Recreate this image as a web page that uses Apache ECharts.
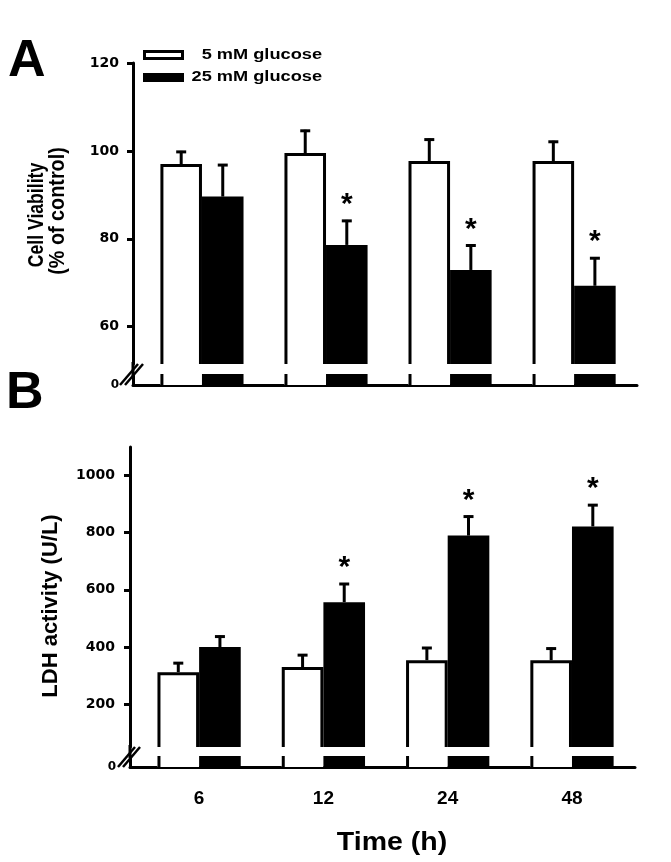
<!DOCTYPE html>
<html><head><meta charset="utf-8">
<script src="https://cdn.jsdelivr.net/npm/echarts@6/dist/echarts.min.js"></script>
<style>html,body{margin:0;padding:0;background:#fff}#c{width:671px;height:862px}</style>
</head><body><div id="c"></div>
<script>
// ---- data ----
const timeLabels = ['6', '12', '24', '48'];
const seriesNames = ['5 mM glucose', '25 mM glucose'];
const viabilityLow = [97.0, 99.5, 97.7, 97.7];
const viabilityLowSD = [3.0, 5.3, 5.1, 4.6];
const viabilityHigh = [89.6, 78.6, 72.9, 69.3];
const viabilityHighSD = [7.4, 5.7, 5.8, 6.5];
const viabilitySig = [0, 1, 1, 1];
const ldhLow = [312, 330, 354, 354];
const ldhLowSD = [35, 45, 46, 44];
const ldhHigh = [400, 557, 790, 822];
const ldhHighSD = [40, 67, 70, 78];
const ldhSig = [0, 1, 1, 1];
const viabilityTicks = [60, 80, 100, 120];
const ldhTicks = [200, 400, 600, 800, 1000];
const zeroTick = [0];

// ---- layout / style ----
const FONT = 'Liberation Sans, Arial, sans-serif';
const WIDE = 'DejaVu Sans, sans-serif';
const XMIN = -0.556, XMAX = 3.507;
const BAR_FRAC = 0.335;
const LOW_MAX = 3;

function makeBars(axis, values, sds, sig, which, upper) {
  return {
    type: 'custom', xAxisIndex: axis, yAxisIndex: axis, clip: false,
    encode: { x: 0, y: 1 },
    data: values.map((v, i) => [i, v, sds ? sds[i] : 0, sig ? sig[i] : 0]),
    renderItem: function (params, api) {
      const i = api.value(0), v = api.value(1), sd = api.value(2), sg = api.value(3);
      const cs = params.coordSys;
      const unit = api.size([1, 0])[0];
      const bw = unit * BAR_FRAC;
      const cx = api.coord([i, upper ? v : 0])[0] + (which === 0 ? -bw / 2 : bw / 2);
      const x0 = cx - bw / 2, x1 = cx + bw / 2;
      const yBase = cs.y + cs.height;
      const yTop = upper ? api.coord([i, v])[1] : api.coord([i, Math.min(v, LOW_MAX)])[1];
      const ch = [];
      if (which === 0) {
        ch.push({ type: 'rect', shape: { x: x0, y: yTop, width: bw, height: yBase - yTop }, style: { fill: '#fff' } });
        if (upper) {
          ch.push({ type: 'polyline', shape: { points: [[x0 + 1.5, yBase], [x0 + 1.5, yTop + 1.5], [x1 - 1.5, yTop + 1.5], [x1 - 1.5, yBase]] },
            style: { stroke: '#000', lineWidth: 3, fill: null } });
        } else {
          ch.push({ type: 'line', shape: { x1: x0 + 1.5, y1: yTop, x2: x0 + 1.5, y2: yBase }, style: { stroke: '#000', lineWidth: 3 } });
        }
      } else {
        ch.push({ type: 'rect', shape: { x: x0, y: yTop, width: bw, height: yBase - yTop }, style: { fill: '#000' } });
      }
      if (upper) {
        const yErr = api.coord([i, v + sd])[1];
        ch.push({ type: 'line', shape: { x1: cx, y1: yTop, x2: cx, y2: yErr }, style: { stroke: '#000', lineWidth: 3 } });
        ch.push({ type: 'line', shape: { x1: cx - 5, y1: yErr + 1, x2: cx + 5, y2: yErr + 1 }, style: { stroke: '#000', lineWidth: 3 } });
        if (sg) {
          ch.push({ type: 'text', x: cx, y: yErr - 15, style: { text: '*', fill: '#000', fontSize: 30, fontWeight: 'bold', fontFamily: FONT, align: 'center', verticalAlign: 'middle' } });
        }
      }
      return { type: 'group', children: ch };
    }
  };
}

const axisLine = { show: true, onZero: false, lineStyle: { color: '#000', width: 3 } };
const tickLabel = { color: '#000', fontFamily: WIDE, fontWeight: 'bold', fontSize: 14, margin: 14, formatter: v => String(v) };

const option = {
  animation: false,
  backgroundColor: '#fff',
  grid: [
    { left: 133, right: 34, top: 63, height: 301 },
    { left: 133, right: 34, top: 374, height: 11 },
    { left: 130, right: 36, top: 447, height: 300 },
    { left: 130, right: 36, top: 756, height: 11 }
  ],
  xAxis: [0, 1, 2, 3].map(k => ({
    type: 'value', gridIndex: k, min: XMIN, max: XMAX,
    show: k === 1 || k === 3,
    axisLine: axisLine, axisTick: { show: false }, splitLine: { show: false },
    axisLabel: k === 3 ? { customValues: [0, 1, 2, 3], color: '#000', fontFamily: FONT, fontWeight: 'bold', fontSize: 19, margin: 22,
      formatter: v => timeLabels[Math.round(v)] } : { show: false }
  })),
  yAxis: [
    { type: 'value', gridIndex: 0, min: 51.5, max: 120, axisLine: axisLine, splitLine: { show: false },
      axisTick: { show: true, length: 6, lineStyle: { color: '#000', width: 3 }, customValues: viabilityTicks },
      axisLabel: Object.assign({}, tickLabel, { customValues: viabilityTicks }) },
    { type: 'value', gridIndex: 1, min: 0, max: LOW_MAX, axisLine: axisLine, splitLine: { show: false },
      axisTick: { show: false }, axisLabel: Object.assign({}, tickLabel, { customValues: zeroTick, fontSize: 12, margin: 14 }) },
    { type: 'value', gridIndex: 2, min: 50, max: 1100, axisLine: axisLine, splitLine: { show: false },
      axisTick: { show: true, length: 6, lineStyle: { color: '#000', width: 3 }, customValues: ldhTicks },
      axisLabel: Object.assign({}, tickLabel, { customValues: ldhTicks, margin: 15 }) },
    { type: 'value', gridIndex: 3, min: 0, max: LOW_MAX, axisLine: axisLine, splitLine: { show: false },
      axisTick: { show: false }, axisLabel: Object.assign({}, tickLabel, { customValues: zeroTick, fontSize: 12, margin: 14 }) }
  ],
  series: [
    makeBars(0, viabilityLow, viabilityLowSD, null, 0, true),
    makeBars(0, viabilityHigh, viabilityHighSD, viabilitySig, 1, true),
    makeBars(1, viabilityLow, null, null, 0, false),
    makeBars(1, viabilityHigh, null, null, 1, false),
    makeBars(2, ldhLow, ldhLowSD, null, 0, true),
    makeBars(2, ldhHigh, ldhHighSD, ldhSig, 1, true),
    makeBars(3, ldhLow, null, null, 0, false),
    makeBars(3, ldhHigh, null, null, 1, false)
  ],
  graphic: [
    { type: 'text', left: 8, top: 36, style: { text: 'A', fontSize: 52, fontWeight: 'bold', fontFamily: FONT, fill: '#000' } },
    { type: 'text', left: 6, top: 368, style: { text: 'B', fontSize: 52, fontWeight: 'bold', fontFamily: FONT, fill: '#000' } },
    { type: 'rect', shape: { x: 144.5, y: 51.5, width: 38, height: 7 }, style: { fill: '#fff', stroke: '#000', lineWidth: 3 } },
    { type: 'rect', shape: { x: 143, y: 73, width: 41, height: 9 }, style: { fill: '#000' } },
    { type: 'text', x: 322, y: 55, scaleX: 1.3, style: { text: seriesNames[0], align: 'right', verticalAlign: 'middle', fontSize: 14, fontWeight: 'bold', fontFamily: FONT, fill: '#000' } },
    { type: 'text', x: 322, y: 77, scaleX: 1.3, style: { text: seriesNames[1], align: 'right', verticalAlign: 'middle', fontSize: 14, fontWeight: 'bold', fontFamily: FONT, fill: '#000' } },
    { type: 'text', x: 37, y: 215, rotation: Math.PI / 2, scaleX: 0.8, style: { text: 'Cell Viability', align: 'center', verticalAlign: 'middle', fontSize: 22, fontWeight: 'bold', fontFamily: FONT, fill: '#000' } },
    { type: 'text', x: 58, y: 211, rotation: Math.PI / 2, scaleX: 0.9, style: { text: '(% of control)', align: 'center', verticalAlign: 'middle', fontSize: 22, fontWeight: 'bold', fontFamily: FONT, fill: '#000' } },
    { type: 'text', x: 51, y: 606, rotation: Math.PI / 2, style: { text: 'LDH activity (U/L)', align: 'center', verticalAlign: 'middle', fontSize: 22, fontWeight: 'bold', fontFamily: FONT, fill: '#000' } },
    { type: 'text', x: 392, y: 843, scaleX: 1.14, style: { text: 'Time (h)', align: 'center', verticalAlign: 'middle', fontSize: 25, fontWeight: 'bold', fontFamily: FONT, fill: '#000' } },
    // axis continuity through breaks
    { type: 'line', shape: { x1: 133, y1: 362, x2: 133, y2: 376 }, style: { stroke: '#000', lineWidth: 3 } },
    { type: 'line', shape: { x1: 130, y1: 745, x2: 130, y2: 758 }, style: { stroke: '#000', lineWidth: 3 } },
    // break marks
    { type: 'line', shape: { x1: 120, y1: 385, x2: 138, y2: 364 }, style: { stroke: '#000', lineWidth: 2.5 } },
    { type: 'line', shape: { x1: 125, y1: 385, x2: 143, y2: 364 }, style: { stroke: '#000', lineWidth: 2.5 } },
    { type: 'line', shape: { x1: 118, y1: 767, x2: 135, y2: 747 }, style: { stroke: '#000', lineWidth: 2.5 } },
    { type: 'line', shape: { x1: 123, y1: 767, x2: 140, y2: 747 }, style: { stroke: '#000', lineWidth: 2.5 } }
  ]
};
const chart = echarts.init(document.getElementById('c'), null, { renderer: 'canvas' });
chart.setOption(option);
</script></body></html>
